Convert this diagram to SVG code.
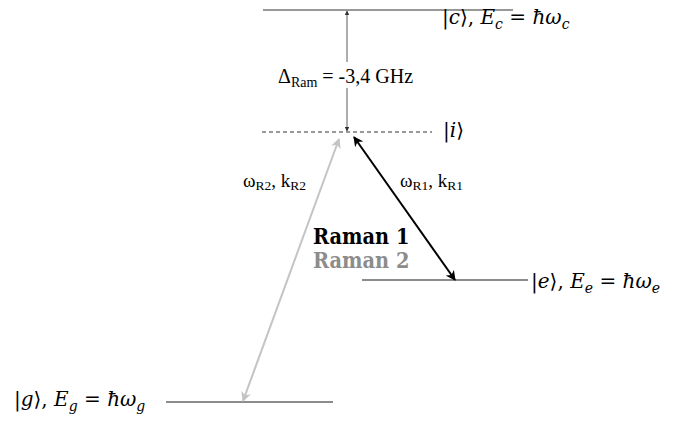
<svg xmlns="http://www.w3.org/2000/svg" width="676" height="427" viewBox="0 0 676 427">
<style>
.lvl{stroke:#333;stroke-width:1.2;fill:none}
.lvl2{stroke:#666;stroke-width:1.3;fill:none}
.math{font-family:"DejaVu Serif","Liberation Serif",serif;font-size:20px;fill:#000}
.mi{font-style:italic}
.lbl{font-family:"Liberation Serif",serif;font-size:19px;fill:#000}
.big{font-size:20px}
.ram{font-family:"DejaVu Serif Condensed","DejaVu Serif",serif;font-size:21.5px;font-weight:bold}
</style>
<defs>
<marker id="ahBlack" viewBox="0 0 10 10" refX="9" refY="5" markerWidth="5" markerHeight="5" orient="auto-start-reverse"><path d="M0,0 L10,5 L0,10 L3,5 Z" fill="#000"/></marker>
<marker id="ahGray" viewBox="0 0 10 10" refX="9" refY="5" markerWidth="5" markerHeight="5" orient="auto-start-reverse"><path d="M0,0 L10,5 L0,10 L3,5 Z" fill="#c4c4c4"/></marker>
<marker id="ahDark" viewBox="0 0 10 10" refX="9" refY="5" markerWidth="4" markerHeight="4" orient="auto-start-reverse"><path d="M0,0 L10,5 L0,10 Z" fill="#333"/></marker>
</defs>
<g id="level-c">
<line class="lvl" x1="263" y1="10" x2="513" y2="10"/>
<text class="math" x="442" y="24">|<tspan class="mi">c</tspan>⟩, <tspan class="mi">E</tspan><tspan class="mi" font-size="14" dy="5">c</tspan><tspan dy="-5"> = </tspan><tspan class="mi">ħω</tspan><tspan class="mi" font-size="14" dy="5">c</tspan></text>
</g>
<g id="level-i">
<line x1="262" y1="132" x2="432" y2="132" stroke="#333" stroke-width="1" stroke-dasharray="4,3"/>
<text class="math" x="443" y="137">|<tspan class="mi">i</tspan>⟩</text>
</g>
<g id="level-e">
<line class="lvl2" x1="362" y1="280" x2="528" y2="280"/>
<text class="math" x="531" y="288">|<tspan class="mi">e</tspan>⟩, <tspan class="mi">E</tspan><tspan class="mi" font-size="14" dy="5">e</tspan><tspan dy="-5"> = </tspan><tspan class="mi">ħω</tspan><tspan class="mi" font-size="14" dy="5">e</tspan></text>
</g>
<g id="level-g">
<line class="lvl2" x1="166" y1="402" x2="333" y2="402"/>
<text class="math" x="14" y="406">|<tspan class="mi">g</tspan>⟩, <tspan class="mi">E</tspan><tspan class="mi" font-size="14" dy="5">g</tspan><tspan dy="-5"> = </tspan><tspan class="mi">ħω</tspan><tspan class="mi" font-size="14" dy="5">g</tspan></text>
</g>
<g id="connectors">
<line x1="347" y1="11" x2="347" y2="62" stroke="#777" stroke-width="1.2" marker-start="url(#ahDark)"/>
<line x1="347" y1="88" x2="347" y2="131" stroke="#777" stroke-width="1.2" marker-end="url(#ahDark)"/>
<line x1="354" y1="137" x2="455" y2="280" stroke="#000" stroke-width="2" marker-start="url(#ahBlack)" marker-end="url(#ahBlack)"/>
<line x1="339" y1="139" x2="243" y2="401" stroke="#c4c4c4" stroke-width="2" marker-start="url(#ahGray)" marker-end="url(#ahGray)"/>
</g>
<g id="labels">
<text class="lbl big" x="278" y="83">Δ<tspan font-size="14" dy="4">Ram</tspan><tspan dy="-4"> = -3,4 GHz</tspan></text>
<text class="lbl" x="243" y="187">ω<tspan font-size="13.5" dy="3">R2</tspan><tspan dy="-3">, k</tspan><tspan font-size="13.5" dy="3">R2</tspan></text>
<text class="lbl" x="400" y="187">ω<tspan font-size="13.5" dy="3">R1</tspan><tspan dy="-3">, k</tspan><tspan font-size="13.5" dy="3">R1</tspan></text>
<text class="ram" x="313" y="244" fill="#000">Raman 1</text>
<text class="ram" x="313" y="268" fill="#8c8c8c">Raman 2</text>
</g>
</svg>
